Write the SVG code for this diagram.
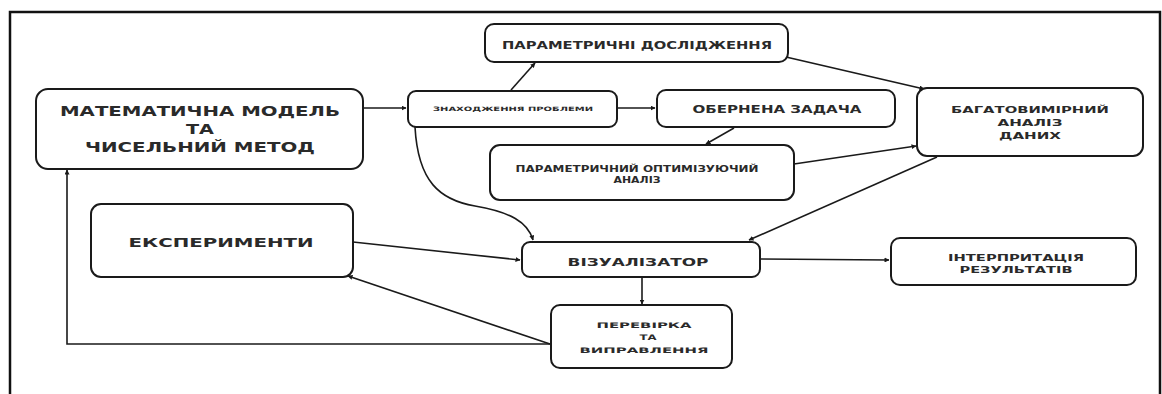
<svg xmlns="http://www.w3.org/2000/svg" width="1162" height="394" viewBox="0 0 1162 394">
<style>
.n rect{fill:#fff;stroke:#1a1a1a;stroke-width:2}
.n text{font-family:"DejaVu Sans",sans-serif;font-weight:bold;fill:#2a2a2a;text-anchor:middle}
.c path{fill:none;stroke:#1a1a1a;stroke-width:1.6}
</style>
<defs>
<marker id="ah" viewBox="0 0 10 10" refX="9" refY="5" markerWidth="5" markerHeight="5" orient="auto" markerUnits="userSpaceOnUse">
<path d="M0,0 L10,5 L0,10 z" fill="#1a1a1a"/>
</marker>
</defs>
<rect width="1162" height="394" fill="#fff"/>
<path d="M10,394 V12 H1160 V394" fill="none" stroke="#111" stroke-width="2.5"/>
<g class="c">
<path d="M363,108 H406" marker-end="url(#ah)"/>
<path d="M511,90 L535,63" marker-end="url(#ah)"/>
<path d="M617,108 H655" marker-end="url(#ah)"/>
<path d="M734,128 L706,144" marker-end="url(#ah)"/>
<path d="M786,57 L924,89" marker-end="url(#ah)"/>
<path d="M794,164 L916,146" marker-end="url(#ah)"/>
<path d="M937,157 L749,240" marker-end="url(#ah)"/>
<path d="M415,127 C418,182 440,200 475,206 C510,212 528,222 533,240" marker-end="url(#ah)"/>
<path d="M353,242 L520,260" marker-end="url(#ah)"/>
<path d="M550,344 L348,276" marker-end="url(#ah)"/>
<path d="M550,344 H67 V170" marker-end="url(#ah)"/>
<path d="M642,277 V304" marker-end="url(#ah)"/>
<path d="M760,259 L889,260" marker-end="url(#ah)"/>
</g>
<g id="n-model" class="n">
<rect x="36" y="89" width="327" height="80" rx="12"/>
<text x="200" y="116" font-size="14" textLength="280" lengthAdjust="spacingAndGlyphs">МАТЕМАТИЧНА МОДЕЛЬ</text>
<text x="200" y="134" font-size="14" textLength="28" lengthAdjust="spacingAndGlyphs">ТА</text>
<text x="200" y="152" font-size="14" textLength="230" lengthAdjust="spacingAndGlyphs">ЧИСЕЛЬНИЙ МЕТОД</text>
</g>
<g id="n-problem" class="n">
<rect x="408" y="91" width="209" height="36" rx="8"/>
<text x="513" y="111" font-size="6" textLength="160" lengthAdjust="spacingAndGlyphs">ЗНАХОДЖЕННЯ ПРОБЛЕМИ</text>
</g>
<g id="n-param" class="n">
<rect x="485" y="24" width="303" height="38" rx="9"/>
<text x="637" y="49" font-size="11" textLength="270" lengthAdjust="spacingAndGlyphs">ПАРАМЕТРИЧНІ ДОСЛІДЖЕННЯ</text>
</g>
<g id="n-inverse" class="n">
<rect x="657" y="90" width="238" height="37" rx="9"/>
<text x="777" y="113" font-size="10" textLength="169" lengthAdjust="spacingAndGlyphs">ОБЕРНЕНА ЗАДАЧА</text>
</g>
<g id="n-optim" class="n">
<rect x="490" y="145" width="304" height="55" rx="10"/>
<text x="637" y="172" font-size="8" textLength="243" lengthAdjust="spacingAndGlyphs">ПАРАМЕТРИЧНИЙ ОПТИМІЗУЮЧИЙ</text>
<text x="637" y="183" font-size="8" textLength="47" lengthAdjust="spacingAndGlyphs">АНАЛІЗ</text>
</g>
<g id="n-multi" class="n">
<rect x="917" y="88" width="226" height="68" rx="10"/>
<text x="1030" y="113" font-size="8.5" textLength="158" lengthAdjust="spacingAndGlyphs">БАГАТОВИМІРНИЙ</text>
<text x="1030" y="126" font-size="8.5" textLength="65" lengthAdjust="spacingAndGlyphs">АНАЛІЗ</text>
<text x="1030" y="139" font-size="8.5" textLength="62" lengthAdjust="spacingAndGlyphs">ДАНИХ</text>
</g>
<g id="n-exp" class="n">
<rect x="91" y="204" width="262" height="73" rx="10"/>
<text x="221" y="247" font-size="13" textLength="185" lengthAdjust="spacingAndGlyphs">ЕКСПЕРИМЕНТИ</text>
</g>
<g id="n-viz" class="n">
<rect x="522" y="242" width="238" height="35" rx="8"/>
<text x="638" y="266" font-size="11" textLength="141" lengthAdjust="spacingAndGlyphs">ВІЗУАЛІЗАТОР</text>
</g>
<g id="n-check" class="n">
<rect x="551" y="305" width="181" height="63" rx="9"/>
<text x="644" y="328" font-size="7.5" textLength="95" lengthAdjust="spacingAndGlyphs">ПЕРЕВІРКА</text>
<text x="648" y="340" font-size="7.5" textLength="17" lengthAdjust="spacingAndGlyphs">ТА</text>
<text x="644" y="353" font-size="7.5" textLength="129" lengthAdjust="spacingAndGlyphs">ВИПРАВЛЕННЯ</text>
</g>
<g id="n-interp" class="n">
<rect x="891" y="238" width="245" height="47" rx="9"/>
<text x="1016" y="261" font-size="8" textLength="136" lengthAdjust="spacingAndGlyphs">ІНТЕРПРИТАЦІЯ</text>
<text x="1016" y="273" font-size="8" textLength="113" lengthAdjust="spacingAndGlyphs">РЕЗУЛЬТАТІВ</text>
</g>
</svg>
